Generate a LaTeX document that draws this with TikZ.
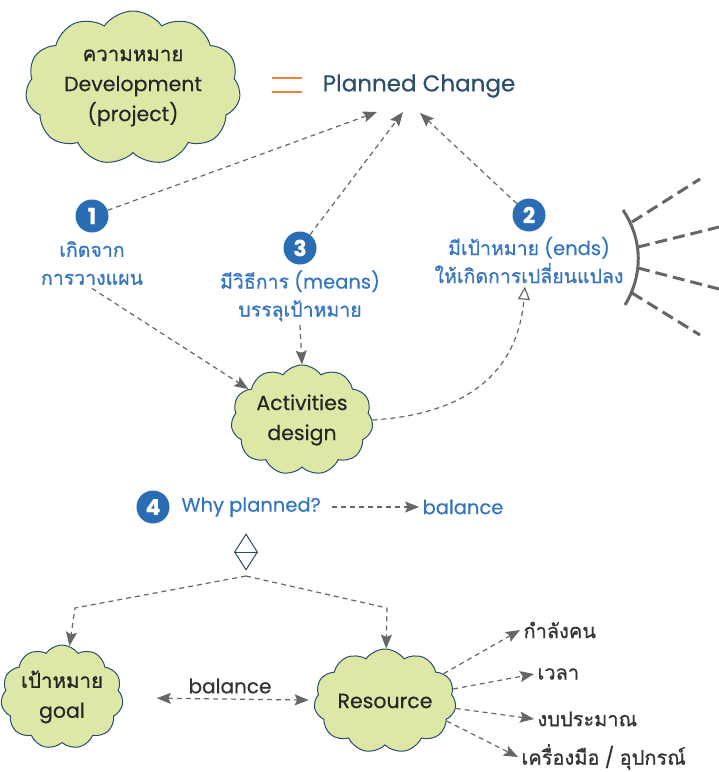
\documentclass[tikz,border=0pt]{standalone}
\usepackage{fontspec}
\setmainfont{Poppins}[FakeBold=0.4]
\newfontfamily\thaifont[Script=Thai,FakeBold=0.8]{Loma}
\usetikzlibrary{shapes.symbols,shapes.geometric,arrows.meta}
\definecolor{cloudfill}{HTML}{DDE8A6}
\definecolor{cloudline}{HTML}{2B4C6F}
\definecolor{numblue}{HTML}{2A6DB5}
\definecolor{textblue}{HTML}{3575C0}
\definecolor{titleblue}{HTML}{2D4E6E}
\definecolor{linegray}{HTML}{666666}
\definecolor{eqorange}{HTML}{F0803C}
\newcommand\tha[1]{{\thaifont #1}}
\begin{document}
\begin{tikzpicture}
		[	x=1pt,y=-1pt,
		idea/.style={cloud,cloud puffs=11,cloud puff arc=110,cloud ignores aspect,draw=cloudline,fill=cloudfill,line width=1pt,align=center,inner sep=0pt,text=black!85,font=\fontsize{20.5}{30}\selectfont},
		num/.style={circle,fill=numblue,text=white,minimum size=33pt,inner sep=0pt,font=\bfseries\fontsize{22}{22}\selectfont},
		note/.style={align=center,text=textblue,font=\fontsize{19.5}{28}\selectfont},
		item/.style={anchor=west,text=black!80,font=\fontsize{20}{20}\selectfont},
		link/.style={draw=linegray,line width=1.2pt,dash pattern=on 5pt off 4pt,-{Stealth[length=14pt,width=11pt,inset=2.5pt]}},
		ray/.style={draw=linegray,line width=3pt,dash pattern=on 12pt off 6pt}
		]
		\useasboundingbox (0,0) rectangle (719,772);

		\node[idea,minimum width=215pt,minimum height=154pt] (meaning) at (133,88){\tha{ความหมาย}\\Development\\(project)};
		\draw[eqorange,line width=2.5pt] (272,78) -- (302,78) (272,92) -- (302,92);
		\node[text=titleblue,font=\fontsize{23}{23}\selectfont] (planned) at (419,86){Planned Change};
		\coordinate (pc1) at (377,112);
		\coordinate (pc2) at (403,112);
		\coordinate (pc3) at (420,113);

\node[num] (n1) at (92,216){1};
\node[note] (t1) at (92,263){\tha{เกิดจาก}\\\tha{การวางแผน}};
\node[num] (n3) at (300,248){3};
\node[note] (t3) at (300,296){\tha{มีวิธีการ} (means)\\\tha{บรรลุเป้าหมาย}};
\node[num] (n2) at (529,215){2};
\node[note] (t2) at (529,260){\tha{มีเป้าหมาย} (ends)\\\tha{ให้เกิดการเปลี่ยนแปลง}};

		\node[idea,minimum width=142pt,minimum height=110pt] (design) at (302,420){Activities\\design};

		\draw[link] (n1) -- (pc1);
		\draw[link] (n3) -- (pc2);
		\draw[link] (n2) -- (pc3);
		\draw[link] (t1.south) -- (design.150);
		\draw[link] (t3.south) -- (design.north);
		\draw[link,-{Triangle[open,length=13pt,width=12pt]}] (design.east) .. controls (470,414) and (518,370) .. ([xshift=-4pt]t2.south);

		\draw[linegray,line width=3pt] (623,210) .. controls (643,240) and (643,275) .. (625,305);
		\foreach \a/\b/\c/\d in {632/222/700/179, 638/247/719/227, 638/268/719/289, 632/293/700/335}
			\draw[ray] (\a,\b) -- (\c,\d);

\node[num] (n4) at (153,507){4};
\node[note,anchor=west] (why) at (178,507){Why planned?};
\node[note] (goalbal) at (463,507){balance};
		\draw[link,shorten <=8pt] (why) -- (goalbal);

		\node[diamond,draw=cloudline,line width=1pt,minimum width=23pt,minimum height=36pt,inner sep=0pt] (fork) at (246,552){};
		\draw[cloudline,line width=1pt] (fork.west) -- (fork.east);
		\coordinate (split) at (246,576);
		\coordinate (gl) at (75,608);
		\coordinate (rl) at (387,608);

		\node[idea,minimum width=112pt,minimum height=104pt] (goal) at (62,697){\tha{เป้าหมาย}\\goal};
		\node[idea,minimum width=142pt,minimum height=104pt] (res) at (385,701){Resource};
		\draw[link] (split) -- (gl) -- (goal);
		\draw[link] (split) -- (rl) -- (res);
		\draw[link,{Stealth[length=14pt,width=11pt,inset=2.5pt]}-{Stealth[length=14pt,width=11pt,inset=2.5pt]},shorten <=34pt,shorten >=6pt] (goal) -- (res);
		\node[item,anchor=center] (reslbl) at (230,686){balance};

\node[item] (i1) at (520,630){\tha{กำลังคน}};
\node[item] (i2) at (534,674){\tha{เวลา}};
\node[item] (i3) at (534,719){\tha{งบประมาณ}};
\node[item] (i4) at (518,757){\tha{เครื่องมือ} / \tha{อุปกรณ์}};
		\draw[link] (res.25) -- (i1.west);
		\draw[link] (res.10) -- (i2.west);
		\draw[link] (res.-6) -- (i3.west);
		\draw[link] (res.-18) -- (i4.west);
	\end{tikzpicture}
\end{document}
